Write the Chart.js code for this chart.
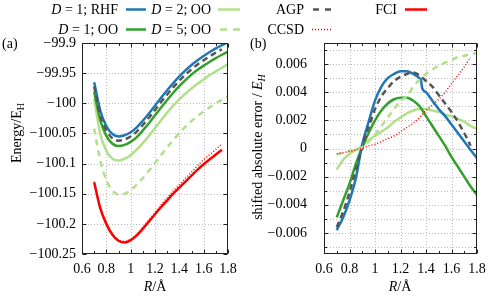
<!DOCTYPE html>
<html><head><meta charset="utf-8">
<script src="https://cdn.jsdelivr.net/npm/chart.js@4.4.0/dist/chart.umd.min.js"></script>
<style>
html,body{margin:0;padding:0;background:#fff;}
#wrap{position:relative;width:498px;height:296px;overflow:hidden;font-family:"Liberation Serif","DejaVu Serif",serif;color:#000;}
canvas{position:absolute;top:0;}
.t{position:absolute;font-size:14px;line-height:14px;white-space:nowrap;}
.rot{transform:translate(-50%,-50%) rotate(-90deg);}
.ctr{transform:translate(-50%,-50%);}
sub{font-size:10px;vertical-align:-3px;line-height:0;}
.sw{position:absolute;overflow:visible;}
</style></head><body>
<div id="wrap">
<canvas id="ca" width="250" height="296" style="left:0;width:250px;height:296px"></canvas>
<canvas id="cb" width="248" height="296" style="left:250px;width:248px;height:296px"></canvas>

<div class="t" style="right:380px;top:3px"><i>D</i> = 1; RHF</div>
<div class="t" style="right:287px;top:3px"><i>D</i> = 2; OO</div>
<div class="t" style="right:194px;top:3px">AGP</div>
<div class="t" style="right:101px;top:3px">FCI</div>
<div class="t" style="right:380px;top:23px"><i>D</i> = 1; OO</div>
<div class="t" style="right:287px;top:23px"><i>D</i> = 5; OO</div>
<div class="t" style="right:194px;top:23px">CCSD</div>
<div id="swatches"></div>

<div class="t rot" style="left:17px;top:133px">Energy/E<sub>H</sub></div>
<div class="t rot" style="left:258px;top:147px">shifted absolute error / <i>E</i><sub><i>H</i></sub></div>
<div class="t ctr" style="left:155px;top:287px"><i>R</i>/Å</div>
<div class="t ctr" style="left:400px;top:287px"><i>R</i>/Å</div>
<div class="t" style="left:2px;top:37px">(a)</div>
<div class="t" style="left:250px;top:37px">(b)</div>
</div>
<script>
// ---------------- data ----------------
const R = [0.7,0.75,0.8,0.85,0.9,0.95,1.0,1.05,1.1,1.15,1.2,1.25,1.3,1.35,1.4,1.45,1.5,1.55,1.6,1.65,1.7,1.75,1.8];

// panel (a): energies / E_H
const E_RHF_D1 = [-99.965,-100.012,-100.038,-100.051,-100.055,-100.053,-100.048,-100.040,-100.029,-100.017,-100.004,-99.991,-99.9785,-99.9665,-99.9555,-99.9455,-99.9365,-99.9285,-99.9215,-99.915,-99.909,-99.9035,-99.8985];
const E_OO_D1  = [-99.981,-100.028,-100.054,-100.067,-100.071,-100.069,-100.064,-100.056,-100.045,-100.033,-100.020,-100.007,-99.9945,-99.9825,-99.9715,-99.9615,-99.9525,-99.9445,-99.9375,-99.931,-99.925,-99.9195,-99.9145];
const E_OO_D2  = [-99.992,-100.051,-100.079,-100.092,-100.095,-100.092,-100.086,-100.077,-100.066,-100.054,-100.041,-100.028,-100.0155,-100.004,-99.9935,-99.984,-99.9755,-99.9677,-99.9607,-99.953,-99.947,-99.941,-99.935];
const E_OO_D5  = [-100.042,-100.095,-100.127,-100.145,-100.151,-100.150,-100.144,-100.135,-100.124,-100.112,-100.099,-100.086,-100.073,-100.061,-100.0495,-100.039,-100.0295,-100.021,-100.0135,-100.0065,-100.000,-99.994,-99.988];
const E_AGP    = [-99.972,-100.019,-100.045,-100.058,-100.062,-100.060,-100.055,-100.047,-100.036,-100.024,-100.011,-99.998,-99.9855,-99.9735,-99.9625,-99.9525,-99.9435,-99.9355,-99.9285,-99.922,-99.916,-99.9105];
const E_CCSD   = [-100.130,-100.173,-100.199,-100.217,-100.227,-100.229,-100.2255,-100.2172,-100.2058,-100.1935,-100.181,-100.1685,-100.157,-100.1455,-100.135,-100.1245,-100.114,-100.1035,-100.0935,-100.085,-100.0765,-100.0675];
const E_FCI    = [-100.131,-100.174,-100.200,-100.218,-100.228,-100.231,-100.227,-100.219,-100.208,-100.196,-100.184,-100.172,-100.161,-100.150,-100.140,-100.130,-100.120,-100.110,-100.101,-100.093,-100.085,-100.077];

// panel (b): shifted absolute error / E_H
const R_ERR_RHF = [0.7,0.75,0.8,0.85,0.9,0.95,1.0,1.05,1.1,1.15,1.2,1.25,1.3,1.35,1.36,1.37,1.4,1.45,1.5,1.55,1.6,1.65,1.7,1.75,1.8];
const ERR_RHF_D1 = [-0.0058,-0.0049,-0.0037,-0.0021,0.0003,0.0019,0.0034,0.0044,0.0050,0.0053,0.0055,0.0055,0.0053,0.0050,0.0049,0.0043,0.0040,0.0034,0.0028,0.0023,0.0017,0.0011,0.0005,-0.0001,-0.0007];
const ERR_OO_D1  = [-0.0049,-0.0037,-0.0025,-0.0011,0.0001,0.0011,0.0020,0.0027,0.0032,0.0035,0.0036,0.0036,0.0034,0.0030,0.0023,0.0016,0.0009,0.0002,-0.0006,-0.0013,-0.0020,-0.0027,-0.0033];
const ERR_OO_D2  = [-0.0015,-0.0008,-0.0004,-0.0001,0.0002,0.0006,0.0009,0.0012,0.0015,0.0019,0.0022,0.0025,0.0027,0.0028,0.0028,0.0027,0.0026,0.0024,0.0023,0.0021,0.0019,0.0016,0.0014];
const ERR_OO_D5  = [-0.0004,-0.0003,-0.0002,-0.0001,0.0001,0.0005,0.0010,0.0016,0.0022,0.0028,0.0034,0.0037,0.0044,0.0049,0.0053,0.0056,0.0059,0.0061,0.0063,0.0065,0.0066,0.0067,0.0068];
const ERR_AGP    = [-0.0056,-0.0045,-0.0031,-0.0015,0.0001,0.0015,0.0028,0.0037,0.0043,0.0048,0.0051,0.0053,0.0054,0.0052,0.0048,0.0044,0.0038,0.0032,0.0026,0.0019,0.0011,0.0002];
const ERR_CCSD   = [-0.0004,-0.0003,-0.0002,-0.0001,0.0000,0.0002,0.0003,0.0005,0.0007,0.0009,0.0012,0.0015,0.0018,0.0022,0.0027,0.0031,0.0035,0.0040,0.0046,0.0052,0.0058,0.0065];

// ticks
const X_TICKS = [0.6,0.8,1,1.2,1.4,1.6,1.8];
const X_MINOR = [0.7,0.9,1.1,1.3,1.5,1.7];
const Y_TICKS_A = [-99.9,-99.95,-100,-100.05,-100.1,-100.15,-100.2,-100.25];
const Y_TICKS_B = [0.006,0.004,0.002,0,-0.002,-0.004,-0.006];
const Y_MINOR_B = [0.007,0.005,0.003,0.001,-0.001,-0.003,-0.005,-0.007];

// ---------------- styles ----------------
const C = {blue:'#1f78b4', dgreen:'#33a02c', lgreen:'#b2df8a', grey:'#555555', red:'#ff0000'};
const LEG = [
  {x1:126,x2:146,y:9.5,c:C.blue,d:null,w:2.5},
  {x1:218,x2:240,y:9.5,c:C.lgreen,d:null,w:2.5},
  {x1:313,x2:332,y:9.5,c:C.grey,d:'6 6',w:2.5},
  {x1:405,x2:427,y:9.5,c:C.red,d:null,w:2.5},
  {x1:126,x2:146,y:29.5,c:C.dgreen,d:null,w:2.5},
  {x1:220,x2:240,y:29.5,c:C.lgreen,d:'7 6',w:2.5},
  {x1:312,x2:333,y:29.5,c:C.red,d:'1 2',w:1.5}
];
(function(){
  let s='<svg class="sw" width="498" height="40" style="left:0;top:0;position:absolute">';
  LEG.forEach(l=>{s+=`<line x1="${l.x1}" y1="${l.y}" x2="${l.x2}" y2="${l.y}" stroke="${l.c}" stroke-width="${l.w}" ${l.d?`stroke-dasharray="${l.d}"`:''}/>`;});
  s+='</svg>';
  document.getElementById('swatches').innerHTML=s;
})();

function pts(xs, ys){ const out=[]; for(let i=0;i<ys.length;i++){ if(ys[i]!=null) out.push({x:xs[i],y:ys[i]}); } return out; }
function ds(data, color, opt={}){
  return Object.assign({data, borderColor:color, backgroundColor:color, borderWidth:2.5, pointRadius:0, fill:false, cubicInterpolationMode:'monotone', borderCapStyle:'butt'}, opt);
}

const framePlugin = {
  id:'frame',
  beforeDatasetsDraw(chart, args, o){
    const ctx=chart.ctx, a=chart.chartArea, xs=chart.scales.x, ys=chart.scales.y;
    ctx.save(); ctx.strokeStyle='#bcbcbc'; ctx.lineWidth=1; ctx.setLineDash([1,2]);
    ctx.beginPath();
    o.xGrid.forEach(v=>{const p=Math.round(xs.getPixelForValue(v))+0.5; if(p>a.left+1&&p<a.right-1){ctx.moveTo(p,a.top);ctx.lineTo(p,a.bottom);}});
    o.yGrid.forEach(v=>{const p=Math.round(ys.getPixelForValue(v))+0.5; if(p>a.top+1&&p<a.bottom-1){ctx.moveTo(a.left,p);ctx.lineTo(a.right,p);}});
    ctx.stroke(); ctx.restore();
  },
  afterDatasetsDraw(chart, args, o){
    const ctx=chart.ctx, a=chart.chartArea, xs=chart.scales.x, ys=chart.scales.y;
    const L=Math.round(a.left)+0.5, Rr=Math.round(a.right)-0.5, T=Math.round(a.top)+0.5, B=Math.round(a.bottom)-0.5;
    ctx.save(); ctx.strokeStyle='#222'; ctx.lineWidth=1; ctx.setLineDash([]);
    ctx.strokeRect(L,T,Rr-L,B-T);
    ctx.beginPath();
    const xt=(vals,len)=>vals.forEach(v=>{const p=Math.round(xs.getPixelForValue(v))+0.5; ctx.moveTo(p,B);ctx.lineTo(p,B-len);ctx.moveTo(p,T);ctx.lineTo(p,T+len);});
    const yt=(vals,len)=>vals.forEach(v=>{const p=Math.round(ys.getPixelForValue(v))+0.5; ctx.moveTo(L,p);ctx.lineTo(L+len,p);ctx.moveTo(Rr,p);ctx.lineTo(Rr-len,p);});
    xt(o.xMajor,4); xt(o.xMinor,2.5); yt(o.yMajor,4); yt(o.yMinor,2.5);
    ctx.stroke(); ctx.restore();
  }
};

const tickFont = {family:'"Liberation Serif", serif', size:14};
const fmtMinus = s => s.replace('-', '\u2212');

function baseOptions(yMin, yMax, yTicks, yFmt, yWidth, yPad, rightPad, frameOpts){
  return {
    responsive:false, animation:false, devicePixelRatio:1,
    layout:{padding:{left:0,right:rightPad,top:43,bottom:0}},
    plugins:{legend:{display:false}, tooltip:{enabled:false}, frame:frameOpts},
    scales:{
      x:{type:'linear', min:0.6, max:1.8,
         grid:{display:false, drawTicks:false}, border:{display:false},
         afterBuildTicks:ax=>{ax.ticks=X_TICKS.map(v=>({value:v}));},
         afterFit:ax=>{ax.height=42;},
         ticks:{font:tickFont, color:'#000', padding:7, maxRotation:0, autoSkip:false, callback:v=>String(v)}},
      y:{type:'linear', min:yMin, max:yMax,
         grid:{display:false, drawTicks:false}, border:{display:false},
         afterBuildTicks:ax=>{ax.ticks=yTicks.map(v=>({value:v}));},
         afterFit:ax=>{ax.width=yWidth;},
         ticks:{font:tickFont, color:'#000', padding:yPad, autoSkip:false, callback:yFmt}}
    }
  };
}

new Chart(document.getElementById('ca'), {
  type:'line',
  data:{datasets:[
    ds(pts(R,E_FCI), C.red),
    ds(pts(R,E_CCSD), C.red, {borderWidth:1.5, borderDash:[1,2]}),
    ds(pts(R,E_AGP), C.grey, {borderDash:[6,4]}),
    ds(pts(R,E_RHF_D1), C.blue),
    ds(pts(R,E_OO_D1), C.dgreen),
    ds(pts(R,E_OO_D2), C.lgreen),
    ds(pts(R,E_OO_D5), C.lgreen, {borderDash:[6,5]})
  ]},
  options: baseOptions(-100.25, -99.9, Y_TICKS_A, v=>fmtMinus(String(v)), 82, 6, 22,
    {xGrid:X_TICKS, yGrid:Y_TICKS_A, xMajor:X_TICKS, xMinor:X_MINOR, yMajor:Y_TICKS_A, yMinor:[]}),
  plugins:[framePlugin]
});

new Chart(document.getElementById('cb'), {
  type:'line',
  data:{datasets:[
    ds(pts(R,ERR_CCSD), C.red, {borderWidth:1.5, borderDash:[1,2]}),
    ds(pts(R,ERR_OO_D5), C.lgreen, {borderDash:[6,5]}),
    ds(pts(R,ERR_AGP), C.grey, {borderDash:[6,4]}),
    ds(pts(R_ERR_RHF,ERR_RHF_D1), C.blue),
    ds(pts(R,ERR_OO_D1), C.dgreen),
    ds(pts(R,ERR_OO_D2), C.lgreen)
  ]},
  options: baseOptions(-0.0075, 0.0075, Y_TICKS_B, v=>{const k=Math.round(v*1000); return k===0?'0':fmtMinus((k/1000).toFixed(3));}, 74, 17, 21,
    {xGrid:X_TICKS, yGrid:Y_TICKS_B.concat(Y_MINOR_B), xMajor:X_TICKS, xMinor:X_MINOR, yMajor:Y_TICKS_B, yMinor:Y_MINOR_B}),
  plugins:[framePlugin]
});
</script>
</body></html>
